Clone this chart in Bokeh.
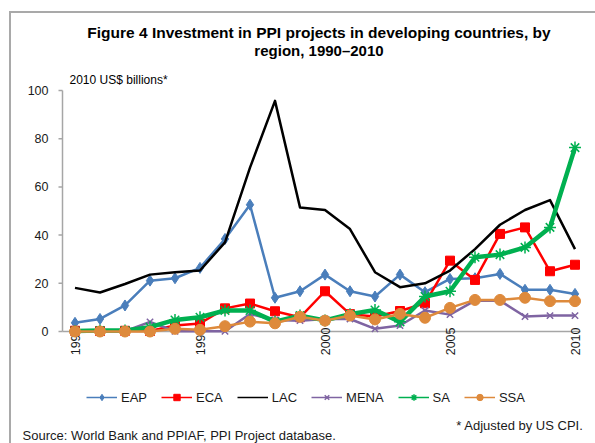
import math
from bokeh.plotting import figure
from bokeh.models import Legend, LegendItem, InlineStyleSheet, Label
from bokeh.embed import file_html
from bokeh.resources import INLINE
from bokeh.core.properties import value

# ---------------- data (2010 US$ billions) ----------------
years = list(range(1990, 2011))
EAP = [3.6, 5.2, 10.8, 21.1, 22.1, 26.4, 38.4, 52.6, 14.0, 16.7, 23.6,
       16.7, 14.5, 23.6, 16.3, 21.8, 22.1, 23.9, 17.3, 17.3, 15.6]
ECA = [0.3, 0.2, 0.3, 0.2, 2.5, 3.3, 9.6, 11.6, 8.4, 5.9, 16.7,
       7.2, 6.2, 8.5, 11.7, 29.4, 21.4, 40.5, 43.2, 25.0, 27.7]
LAC = [18.1, 16.2, 19.7, 23.6, 24.6, 25.3, 37.0, 68.0, 95.7, 51.5, 50.4,
       42.5, 24.6, 18.4, 20.0, 25.3, 34.2, 44.3, 50.4, 54.5, 34.2]
MENA = [0.1, 0.1, 0.1, 4.0, 0.1, 0.1, 0.1, 7.3, 4.8, 4.5, 5.2,
        5.2, 1.1, 2.5, 8.7, 7.0, 12.8, 12.8, 6.2, 6.6, 6.6]
SA = [0.2, 0.4, 0.4, 1.8, 4.8, 5.9, 8.7, 8.7, 4.1, 6.6, 4.6,
      7.2, 8.9, 4.0, 14.5, 16.7, 30.8, 31.9, 34.9, 43.2, 76.3]
SSA = [0.0, 0.0, 0.0, 0.0, 1.1, 0.7, 2.2, 4.1, 3.4, 6.1, 4.5,
       6.6, 5.0, 7.3, 5.7, 9.8, 13.1, 13.1, 14.0, 12.6, 12.6]

region_names = ["EAP", "ECA", "LAC", "MENA", "SA", "SSA"]
region_values = [EAP, ECA, LAC, MENA, SA, SSA]

x_ticks = [1990, 1995, 2000, 2005, 2010]
x_tick_labels = ["1990", "1995", "2000", "2005", "2010"]
y_ticks = [0, 20, 40, 60, 80, 100]
y_tick_labels = ["0", "20", "40", "60", "80", "100"]

title_line1 = "Figure 4 Investment in PPI projects in developing countries, by"
title_line2 = "region, 1990\u20132010"
unit_label = "2010 US$ billions*"
source_note = "Source:  World Bank and PPIAF, PPI Project database."
cpi_note = "* Adjusted by US CPI."

# ---------------- styles / layout ----------------
region_colors = ["#4A7EBB", "#FF0000", "#000000", "#7F64A2", "#00B050", "#DE8A3C"]
region_markers = ["diamond", "square", None, "x", "asterisk", "circle"]
region_widths = [2.5, 2.5, 2.5, 2.5, 4.5, 2.5]
marker_sizes = [11, 9, 0, 9, 12, 11]

W, H = 595, 443
PX_PER_YEAR = 25.0      # horizontal scale
FIRST_YEAR_PX = 74.5    # pixel x of the first category
PX_PER_UNIT = 2.41      # vertical scale
ZERO_PX = 331.0         # pixel y of value 0
FONT = "Liberation Sans"
AXIS_GRAY = "#a6a6a6"
TEXT = "#1a1a1a"
NAN = float("nan")

x0 = years[0]
x_range = (x0 - FIRST_YEAR_PX / PX_PER_YEAR, x0 + (W - FIRST_YEAR_PX) / PX_PER_YEAR)
y_range = (-(H - ZERO_PX) / PX_PER_UNIT, ZERO_PX / PX_PER_UNIT)

p = figure(width=W, height=H, output_backend="svg", toolbar_location=None,
           title=None, x_range=x_range, y_range=y_range,
           x_axis_location=None, y_axis_location=None)
p.min_border = 0
p.border_fill_color = None
p.background_fill_color = None
p.outline_line_color = None
p.grid.visible = False

p.stylesheets = [InlineStyleSheet(css=""":host {
  background-image: linear-gradient(#a9a9a9, #a9a9a9), linear-gradient(#a9a9a9, #a9a9a9);
  background-repeat: no-repeat;
  background-position: 9px 11px, 9px 11px;
  background-size: 640px 2px, 2px 480px;
}""")]

# ---------------- axes ----------------
axis_x = years[0] - 0.5                 # category axis starts half a step before 1990
axis_x_end = years[-1] + 0.22
tick_len = 4 / PX_PER_YEAR

p.segment(x0=[axis_x], y0=[y_ticks[0]], x1=[axis_x], y1=[y_ticks[-1]],
          line_color=AXIS_GRAY, line_width=1.5, level="underlay")
p.segment(x0=[axis_x], y0=[y_ticks[0]], x1=[axis_x_end], y1=[y_ticks[0]],
          line_color=AXIS_GRAY, line_width=1.5, level="underlay")
p.segment(x0=[axis_x - tick_len] * len(y_ticks), y0=y_ticks,
          x1=[axis_x] * len(y_ticks), y1=y_ticks,
          line_color=AXIS_GRAY, line_width=1.5, level="underlay")

p.text(x=[axis_x] * len(y_ticks), y=y_ticks, text=y_tick_labels,
       x_offset=-14, text_align="right", text_baseline="middle",
       text_font=value(FONT), text_font_size="12.5px", text_color=TEXT)
p.text(x=x_ticks, y=[y_ticks[0]] * len(x_ticks), text=x_tick_labels,
       angle=math.pi / 2, y_offset=-4, text_align="right", text_baseline="middle",
       text_font=value(FONT), text_font_size="12.5px", text_color=TEXT)

# ---------------- series ----------------
items = []
for name, vals, col, mk, lw, ms in zip(region_names, region_values, region_colors,
                                       region_markers, region_widths, marker_sizes):
    p.line(years, vals, line_color=col, line_width=lw, line_join="round")
    leg_line = p.line(x=[NAN], y=[NAN], line_color=col, line_width=1.5)
    rs = [leg_line]
    if mk is not None:
        if mk in ("x", "asterisk"):
            sc = p.scatter(years, vals, marker=mk, size=ms, line_color=col, line_width=1.5)
        else:
            sc = p.scatter(years, vals, marker=mk, size=ms, fill_color=col, line_color=col)
        rs.append(sc)
    items.append(LegendItem(label=name, renderers=rs))

legend = Legend(items=items, orientation="horizontal", location=(86, H - 405),
                padding=0, margin=0, spacing=14, glyph_width=31, glyph_height=16,
                label_height=16, label_width=10, label_standoff=4,
                label_text_font=FONT, label_text_font_size="13px",
                label_text_color=TEXT, border_line_color=None,
                background_fill_alpha=0)
p.add_layout(legend, "center")

# ---------------- texts ----------------
def add_text(txt, x, y, size, align="left", bold=False, color="#000000"):
    p.add_layout(Label(x=x, y=H - y, x_units="screen", y_units="screen", text=txt,
                       text_font=FONT, text_font_size=size,
                       text_font_style="bold" if bold else "normal",
                       text_align=align, text_baseline="middle", text_color=color))

add_text(title_line1, 318.5, 32, "15.5px", "center", True)
add_text(title_line2, 318.5, 50, "15px", "center", True)
add_text(unit_label, 69, 79, "12px")
add_text(cpi_note, 583, 425, "13px", "right", color=TEXT)
add_text(source_note, 22, 435, "13px", color=TEXT)

open("out.html", "w").write(file_html(p, INLINE))
